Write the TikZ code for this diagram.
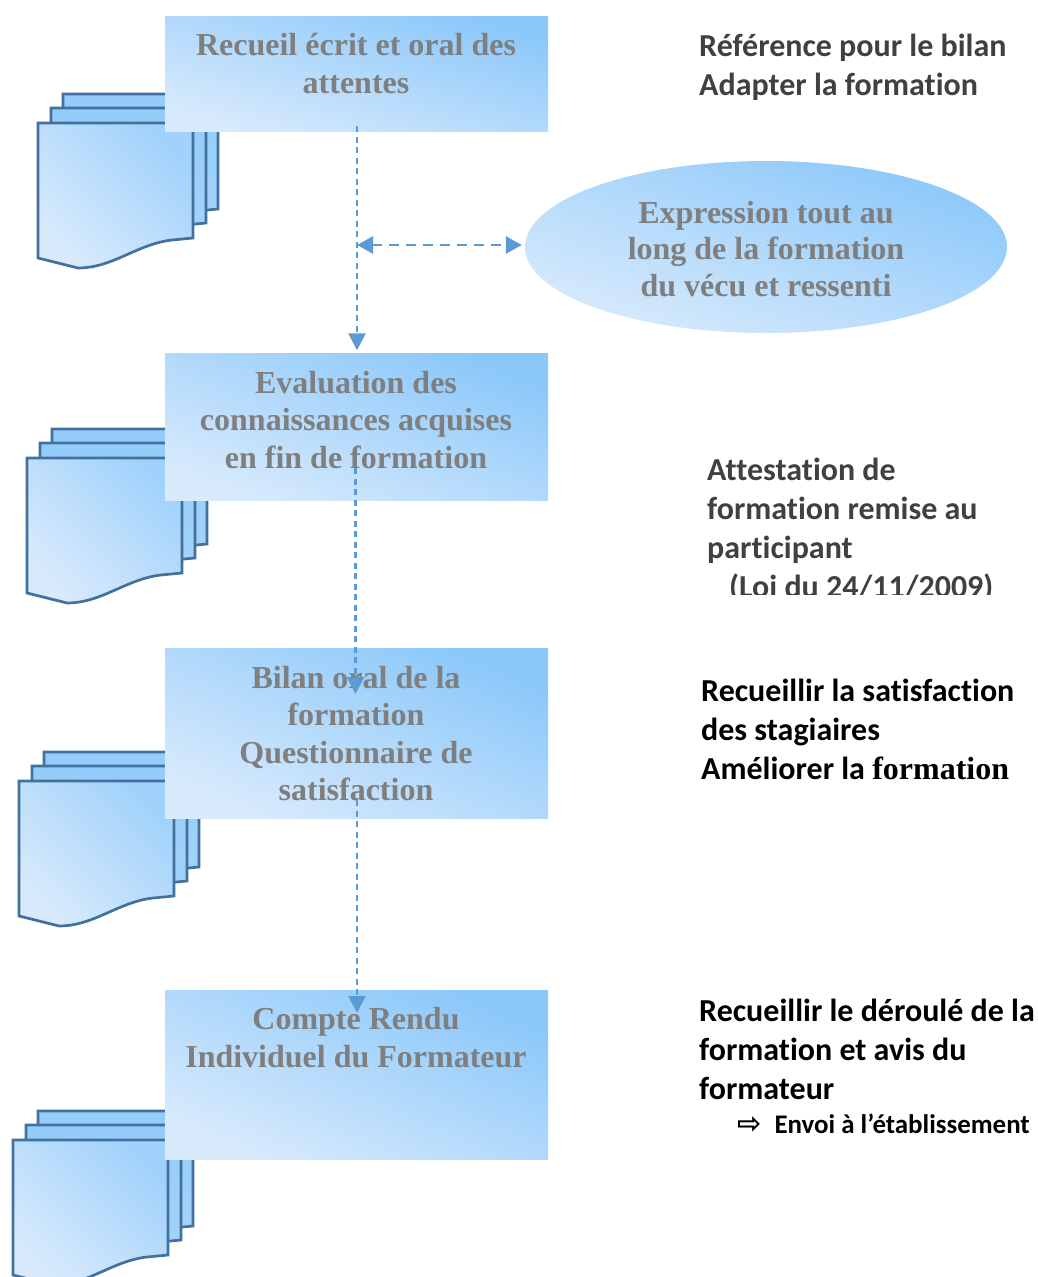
\documentclass[tikz,border=0pt]{standalone}
\usepackage{fontspec}
\setmainfont{Liberation Serif}
\newfontfamily\bodyfont[Ligatures=NoCommon]{Carlito}
\newfontfamily\symbolfont{DejaVu Sans}
\usetikzlibrary{positioning, shapes, arrows.meta, calc}

\definecolor{lightfill}{HTML}{D8EAFC}
\definecolor{darkfill}{HTML}{8BC8FA}
\definecolor{pagefill}{HTML}{A6D4F9}
\definecolor{pageline}{HTML}{41719C}
\definecolor{linkblue}{HTML}{5B9BD5}
\definecolor{titlegrey}{HTML}{7F7F7F}
\definecolor{notegrey}{HTML}{404040}

\tikzset{
  stepbox/.style={rectangle, minimum width=383pt, inner sep=0pt, bottom color=lightfill, top color=darkfill},
  steptext/.style={align=center, text=titlegrey, font=\fontsize{32}{37.5}\selectfont\bfseries},
  notetext/.style={align=left, anchor=north west, inner sep=0pt, font=\fontsize{32}{39}\bodyfont\bfseries},
  linkarrow/.style={draw=linkblue, line width=2.7pt, dash pattern=on 6pt off 4.5pt, -{Triangle[length=17pt,width=17pt]}},
  pagefront/.style={draw=pageline, line width=2.7pt, bottom color=lightfill, top color=darkfill!72!lightfill, shading angle=-45},
  pageback/.style={draw=pageline, line width=2.7pt, bottom color=pagefill, top color=darkfill!70!pagefill}
}

\begin{document}
\begin{tikzpicture}[x=1pt, y=-1pt]
  \useasboundingbox (0,0) rectangle (1038,1277);

  % Document stacks
  \foreach \px/\py in {38/123, 27/458, 19/781, 13/1140} {
    \foreach \dx/\dy/\look in {25/-29/pageback, 13/-15/pageback, 0/0/pagefront}
    \draw[\look] (\px+\dx,\py+\dy) -- ++(155,0) -- ++(0,115) -- ++(-21,2)
      .. controls +(-35,4) and +(35,0) .. ++(-94,28) -- ++(-40,-10) -- cycle;
  }

  % Steps
  \node[stepbox, minimum height=115pt, shading angle=-17] (recueil) at (356.5,74) {};
  \node[stepbox, minimum height=147pt, shading angle=-21] (evaluation) at (356.5,427) {};
  \node[stepbox, minimum height=170pt, shading angle=-24] (bilan) at (356.5,733.5) {};
  \node[stepbox, minimum height=169pt, shading angle=-24] (compte) at (356.5,1075) {};
  \node[ellipse, minimum width=482pt, minimum height=172pt, inner sep=0pt, bottom color=lightfill, top color=darkfill, shading angle=-20] (expression) at (766,247) {};

  % Step texts
  \node[steptext] (recueiltext) at (356,63.5) {Recueil écrit et oral des\\attentes};
  \node[steptext] (evaluationtext) at (356,420) {Evaluation des\\connaissances acquises\\en fin de formation};
  \node[steptext] (bilantext) at (356,733.5) {Bilan oral de la\\formation\\Questionnaire de\\satisfaction};
  \node[steptext] (comptetext) at (356,1037.5) {Compte Rendu\\Individuel du Formateur};
  \node[steptext, font=\fontsize{32}{36.5}\selectfont\bfseries] (expressiontext) at (766,249) {Expression tout au\\long de la formation\\du vécu et ressenti};

  % Arrows
  \coordinate (startA) at (357,126);
  \coordinate (startB) at (355.5,468);
  \coordinate (endB) at (355.5,694);
  \coordinate (startC) at (357,800);
  \coordinate (endC) at (357,1013);
  \coordinate (split) at (357,245);
  \draw[linkarrow, shorten >=3pt] (startA) -- (startA |- evaluation.north);
  \draw[linkarrow] (startB) -- (endB);
  \draw[linkarrow] (startC) -- (endC);
  \draw[linkarrow, dash pattern=on 10pt off 7pt, {Triangle[length=16pt,width=17pt]}-{Triangle[length=16pt,width=17pt]}, shorten >=3pt] (split) -- (split -| expression.west);

  % Notes
  \node[notetext, text=notegrey] (noteA) at (699,33.5) {Référence pour le bilan\\Adapter la formation};
  \begin{scope}
    \clip (690,450) rectangle (1038,594);
    \node[notetext, text=notegrey] (noteB) at (707,458) {Attestation de\\formation remise au\\participant\\\hspace*{22pt}(Loi du 24/11/2009)};
  \end{scope}
  \node[notetext] (noteC) at (701,678.5) {Recueillir la satisfaction\\des stagiaires\\Améliorer la {\fontsize{32}{39}\rmfamily\bfseries formation}};
  \node[notetext] (noteD) at (699,998.5) {Recueillir le déroulé de la\\formation et avis du\\formateur};
  \node[notetext, font=\fontsize{26.9}{30}\bodyfont\bfseries] (noteE) at (737,1114) {{\symbolfont\fontsize{29}{30}\selectfont ⇨}\hspace{13pt}Envoi à l’établissement};
\end{tikzpicture}
\end{document}
